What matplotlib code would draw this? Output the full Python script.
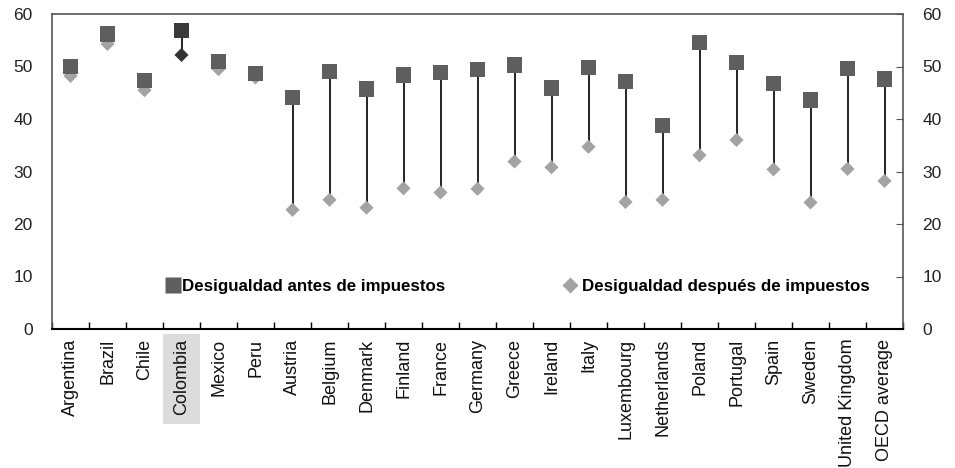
import numpy as np
import matplotlib.pyplot as plt
import matplotlib.transforms as mtransforms
from matplotlib.lines import Line2D
from matplotlib.patches import Rectangle

plt.rcParams['font.family'] = ['Liberation Sans', 'DejaVu Sans']

# --- Data ---
countries = ["Argentina", "Brazil", "Chile", "Colombia", "Mexico", "Peru",
             "Austria", "Belgium", "Denmark", "Finland", "France", "Germany",
             "Greece", "Ireland", "Italy", "Luxembourg", "Netherlands", "Poland",
             "Portugal", "Spain", "Sweden", "United Kingdom", "OECD average"]
before_tax = [50.0, 56.2, 47.3, 56.8, 51.0, 48.7,
              44.1, 49.1, 45.7, 48.4, 48.8, 49.4,
              50.3, 45.9, 49.8, 47.2, 38.7, 54.6,
              50.7, 46.8, 43.6, 49.6, 47.6]
after_tax = [48.2, 54.3, 45.5, 52.2, 49.5, 47.9,
             22.7, 24.6, 23.1, 26.8, 26.0, 26.7,
             31.9, 30.8, 34.7, 24.2, 24.6, 33.1,
             36.0, 30.4, 24.1, 30.5, 28.2]
highlight = "Colombia"

# --- Figure ---
fig = plt.figure(figsize=(9.55, 4.68), dpi=100)
ax = fig.add_axes([52 / 955, 1 - 329 / 468, 851 / 955, 315 / 468])

x = np.arange(len(countries))
sq_colors = ['#3a3a3a' if c == highlight else '#5e5e5e' for c in countries]
dm_colors = ['#333333' if c == highlight else '#a3a3a3' for c in countries]

# stems between before/after
ax.vlines(x, after_tax, before_tax, color='black', linewidth=1.2, zorder=1)
ax.scatter(x, after_tax, marker='D', s=52, c=dm_colors, edgecolors='none', zorder=2)
ax.scatter(x, before_tax, marker='s', s=120, c=sq_colors, edgecolors='none', zorder=3)

ax.set_xlim(-0.5, len(countries) - 0.5)
ax.set_ylim(0, 60)
ax.set_yticks(range(0, 61, 10))
ax.tick_params(axis='y', which='both', left=False, right=True, labelleft=True,
               labelright=True, direction='in', length=5, labelsize=12.5,
               colors='#555555', labelcolor='#222222', pad=14)

# x ticks at category boundaries, labels at centres
ax.set_xticks(np.arange(len(countries) + 1) - 0.5, minor=True)
ax.set_xticks(x)
ax.set_xticklabels(countries, rotation=90, fontsize=13, color='#111111')
ax.tick_params(axis='x', which='major', length=0, pad=7)
ax.tick_params(axis='x', which='minor', direction='in', length=5, width=1)

# grey box behind the highlighted label
i_hl = countries.index(highlight)
trans = mtransforms.blended_transform_factory(ax.transData, ax.transAxes)
ax.add_patch(Rectangle((i_hl - 0.5, -0.30), 1.0, 0.285, transform=trans,
                       facecolor='#dcdcdc', edgecolor='none', clip_on=False, zorder=0))

for side in ['top', 'right', 'left']:
    ax.spines[side].set_color('#555555')
    ax.spines[side].set_linewidth(1.2)
ax.spines['bottom'].set_color('black')
ax.spines['bottom'].set_linewidth(1.5)

# legend entries
h1 = Line2D([0], [0], marker='s', color='w', markerfacecolor='#5e5e5e',
            markeredgecolor='none', markersize=11.5, label='Desigualdad antes de impuestos')
h2 = Line2D([0], [0], marker='D', color='w', markerfacecolor='#a3a3a3',
            markeredgecolor='none', markersize=8, label='Desigualdad después de impuestos')
leg1 = ax.legend(handles=[h1], loc='center left', bbox_to_anchor=(0.1185, 0.135),
                 frameon=False, handlelength=0.6, handletextpad=0.25,
                 prop={'weight': 'bold', 'size': 12.2})
ax.add_artist(leg1)
ax.legend(handles=[h2], loc='center left', bbox_to_anchor=(0.585, 0.135),
          frameon=False, handlelength=0.6, handletextpad=0.4,
          prop={'weight': 'bold', 'size': 12.2})

fig.savefig('out.png', dpi=100)
